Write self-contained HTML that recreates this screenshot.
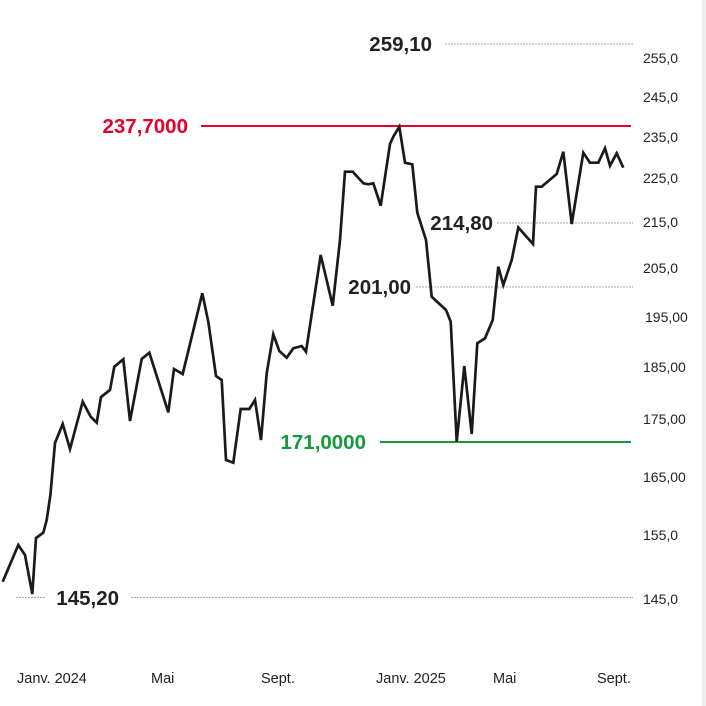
<!DOCTYPE html>
<html><head><meta charset="utf-8"><style>
html,body{margin:0;padding:0;background:#fff;}
svg{display:block;}
text{font-family:"Liberation Sans",sans-serif;}
</style></head><body>
<svg width="706" height="706" viewBox="0 0 706 706" xmlns="http://www.w3.org/2000/svg">
<rect x="0" y="0" width="706" height="706" fill="#fff"/>
<rect x="702" y="0" width="4" height="706" fill="#eeeeee"/>
<g stroke="#aaa" stroke-width="1" stroke-dasharray="2,1" fill="none">
<line x1="445" y1="44" x2="633" y2="44"/>
<line x1="497" y1="223" x2="633" y2="223"/>
<line x1="416" y1="287" x2="633" y2="287"/>
<line x1="16" y1="597.5" x2="46" y2="597.5"/>
<line x1="131" y1="597.5" x2="633" y2="597.5"/>
</g>
<line x1="201" y1="126" x2="631" y2="126" stroke="#e4002b" stroke-width="2"/>
<line x1="380" y1="442" x2="631" y2="442" stroke="#16993c" stroke-width="2"/>
<polyline fill="none" stroke="#1a1a1a" stroke-width="2.7" stroke-linejoin="miter" stroke-miterlimit="4" points="2.7,581.7 18.3,545 25,555 32.3,594 36,538 43.3,532.7 46.7,520 50.4,495 55,443 62.7,424 70,449 82.7,401.7 90.7,416.7 96.7,422.7 101,397 110,390 114.3,366.7 123.3,359.3 130,421 141.7,359 149.3,352.7 168.3,412.3 174,369 182.7,374 202.3,293.3 208.3,321.7 216,376 221.7,380 226,460 233.3,462.7 240.7,409 249.3,409 255,400 261,440 266.7,373.3 273.3,334.3 279.3,351 286.7,357.7 293.3,348.3 301.7,346 306,351.7 320.7,255 332.7,305.7 340,240 345,171.7 352.7,171.7 363.3,183.3 368.3,184.3 373.3,183.3 380.7,205.7 390,144 393.3,136.7 399.3,126.7 405,162.7 412.3,164.3 417.3,212.7 426,240 431.7,296.7 446,310 450.7,321.7 456.7,441.7 464.3,366 471.7,434 477.3,343.3 485,338.3 492.7,320 498.3,266.7 503.3,285 511.7,260 518.3,227.5 533,244 536,186.7 541.7,186.7 556.7,174 563.3,151.7 571.7,224 583.3,152.7 590,162.7 598.3,162.7 605,148.3 610,165.7 616.7,153.3 623.3,167.7"/>
<g font-size="20.5" font-weight="bold" text-anchor="end" fill="#222">
<text x="432" y="51">259,10</text>
<text x="188" y="133" fill="#e4002b">237,7000</text>
<text x="493" y="230">214,80</text>
<text x="411" y="294">201,00</text>
<text x="366" y="449" fill="#16993c">171,0000</text>
<text x="119" y="605">145,20</text>
</g>
<g font-size="14" fill="#222">
<text x="643" y="63">255,0</text>
<text x="643" y="102">245,0</text>
<text x="643" y="142">235,0</text>
<text x="643" y="183">225,0</text>
<text x="643" y="227">215,0</text>
<text x="643" y="273">205,0</text>
<text x="645" y="322">195,00</text>
<text x="643" y="372">185,00</text>
<text x="643" y="424">175,00</text>
<text x="643" y="482">165,00</text>
<text x="643" y="540">155,0</text>
<text x="643" y="604">145,0</text>
</g>
<g font-size="14.5" fill="#222">
<text x="17" y="683">Janv. 2024</text>
<text x="151" y="683">Mai</text>
<text x="261" y="683">Sept.</text>
<text x="376" y="683">Janv. 2025</text>
<text x="493" y="683">Mai</text>
<text x="597" y="683">Sept.</text>
</g>
</svg>
</body></html>
